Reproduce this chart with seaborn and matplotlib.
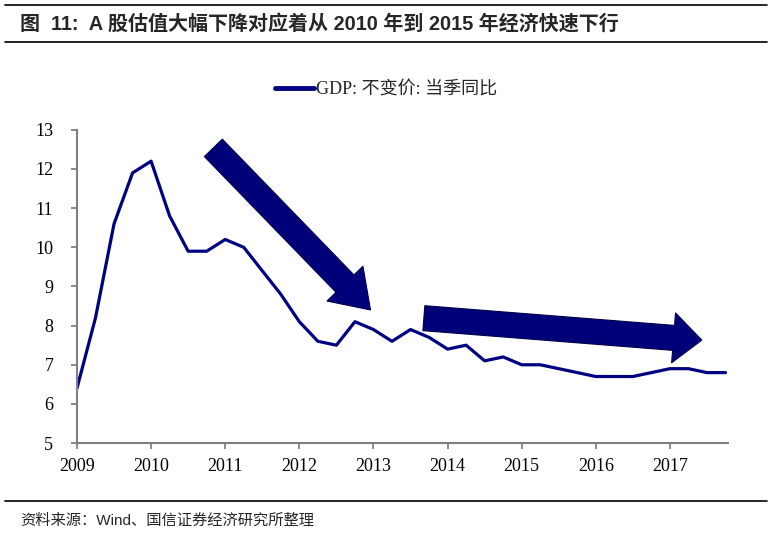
import numpy as np
import pandas as pd
import seaborn as sns
import matplotlib.pyplot as plt
from matplotlib.lines import Line2D

sns.set_theme(style="ticks")
plt.rcParams["font.family"] = ["Liberation Serif", "Noto Sans CJK SC"]

# quarterly GDP, constant price, yoy (%)
quarters = pd.period_range("2009Q1", "2017Q4", freq="Q")
gdp = [6.4, 8.2, 10.6, 11.9,
       12.2, 10.8, 9.9, 9.9,
       10.2, 10.0, 9.4, 8.8,
       8.1, 7.6, 7.5, 8.1,
       7.9, 7.6, 7.9, 7.7,
       7.4, 7.5, 7.1, 7.2,
       7.0, 7.0, 6.9, 6.8,
       6.7, 6.7, 6.7, 6.8,
       6.9, 6.9, 6.8, 6.8]
year_ticks = list(range(2009, 2018))
y_ticks = list(range(5, 14))

series_name = "GDP: 不变价: 当季同比"
title = "图  11:  A 股估值大幅下降对应着从 2010 年到 2015 年经济快速下行"
source = "资料来源：Wind、国信证券经济研究所整理"

df = pd.DataFrame({
    "t": quarters.year + (quarters.quarter - 1) / 4,
    "gdp": gdp,
})

navy = "#000080"
fig = plt.figure(figsize=(7.72, 5.41), dpi=100)
ax = fig.add_axes([0.0997, 0.181, 0.843, 0.579])

sns.lineplot(data=df, x="t", y="gdp", ax=ax, color=navy, linewidth=2.3)

ax.set_xlim(2009, 2017.78)
ax.set_ylim(5, 13)
ax.set_xticks(year_ticks)
ax.set_yticks(y_ticks)
ax.set_xlabel("")
ax.set_ylabel("")
ax.tick_params(axis="both", labelsize=13, colors="#808080", length=4,
               width=1.3, labelcolor="#000000")
ax.tick_params(axis="x", pad=7)
ax.tick_params(axis="y", pad=13)
for side in ["top", "right"]:
    ax.spines[side].set_visible(False)
for side in ["left", "bottom"]:
    ax.spines[side].set_color("#808080")
    ax.spines[side].set_linewidth(1.5)

# trend arrows
arrow_kw = dict(arrowstyle="simple,tail_width=1.5,head_width=3.0,head_length=2.2",
                fc="#000078", ec="#00004a", lw=0.8, shrinkA=0, shrinkB=0)
ax.annotate("", xy=(2012.96, 8.40), xytext=(2010.84, 12.54),
            arrowprops=arrow_kw, annotation_clip=False)
ax.annotate("", xy=(2017.43, 7.63), xytext=(2013.68, 8.19),
            arrowprops=dict(arrow_kw, arrowstyle="simple,tail_width=1.5,head_width=3.0,head_length=1.7"),
            annotation_clip=False)

handle = Line2D([], [], color=navy, linewidth=3.5)
fig.legend([handle], [series_name], loc="center",
           bbox_to_anchor=(0.5, 1 - 90 / 541), frameon=False,
           handlelength=2.2, handletextpad=0.1,
           prop={"family": ["Liberation Serif", "Noto Sans CJK SC"], "size": 13})

# header / footer
fig.text(20 / 772, 1 - 24 / 541, title, fontsize=14.4, fontweight="bold",
         va="center", ha="left", family=["Liberation Sans", "Noto Sans CJK SC"])
fig.text(20 / 772, 1 - 521 / 541, source, fontsize=11,
         va="center", ha="left", family=["Liberation Sans", "Noto Sans CJK SC"])
for yy in [5, 42, 501]:
    fig.add_artist(Line2D([5 / 772, 767 / 772], [1 - yy / 541] * 2,
                          color="black", linewidth=1.2))

fig.savefig("out.png", dpi=100)
